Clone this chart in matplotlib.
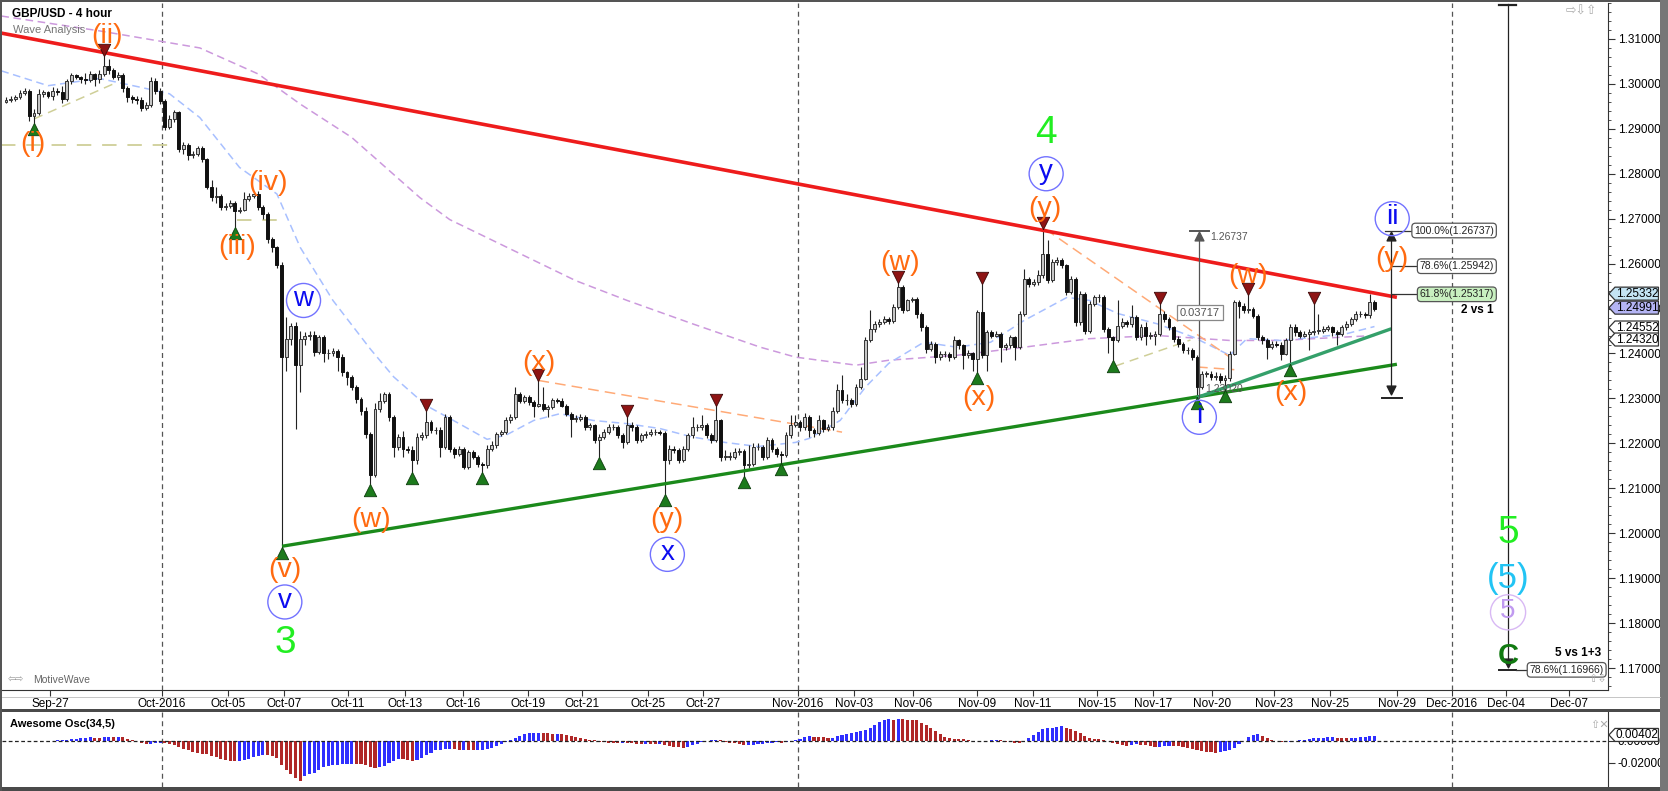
import numpy as np
import matplotlib
matplotlib.use('Agg')
import matplotlib.pyplot as plt
from matplotlib.patches import Polygon, Rectangle
from matplotlib.lines import Line2D

plt.rcParams['font.family'] = ['Liberation Sans', 'DejaVu Sans']

# ---- GBP/USD 4h candles, prices in pips after "1." (2965 -> 1.2965) ----
open0 = 2960
close_pips = [
    2965, 2967, 2970, 2980, 2984, 2928, 2935, 2977, 2981, 2973,
    2985, 2982, 2966, 3006, 3019, 3015, 3010, 3008, 3021, 3010,
    3022, 3039, 3030, 3016, 3020, 2990, 2970, 2966, 2965, 2947,
    2953, 3006, 2985, 2962, 2905, 2922, 2937, 2854, 2864, 2841,
    2845, 2858, 2832, 2771, 2748, 2750, 2725, 2728, 2735, 2718,
    2720, 2744, 2750, 2755, 2727, 2711, 2654, 2636, 2598, 2392,
    2432, 2461, 2374, 2432, 2440, 2442, 2403, 2436, 2400, 2400,
    2405, 2393, 2358, 2348, 2325, 2299, 2273, 2221, 2129, 2276,
    2295, 2310, 2259, 2192, 2214, 2188, 2185, 2163, 2214, 2218,
    2247, 2229, 2229, 2192, 2259, 2188, 2177, 2188, 2148, 2181,
    2170, 2155, 2151, 2188, 2196, 2221, 2225, 2251, 2259, 2310,
    2295, 2303, 2292, 2284, 2288, 2277, 2281, 2296, 2295, 2284,
    2266, 2255, 2255, 2259, 2236, 2240, 2207, 2214, 2225, 2236,
    2236, 2218, 2203, 2240, 2236, 2207, 2218, 2221, 2225, 2225,
    2223, 2162, 2188, 2185, 2162, 2188, 2218, 2236, 2236, 2240,
    2218, 2207, 2251, 2170, 2170, 2170, 2181, 2184, 2151, 2155,
    2192, 2192, 2170, 2207, 2188, 2177, 2175, 2218, 2240, 2248,
    2236, 2259, 2229, 2222, 2251, 2233, 2236, 2273, 2318, 2296,
    2296, 2288, 2325, 2344, 2429, 2455, 2466, 2470, 2477, 2473,
    2503, 2547, 2496, 2518, 2522, 2488, 2459, 2411, 2422, 2392,
    2399, 2399, 2392, 2429, 2418, 2396, 2400, 2388, 2492, 2396,
    2447, 2440, 2444, 2414, 2418, 2437, 2414, 2488, 2566, 2555,
    2559, 2574, 2622, 2563, 2603, 2607, 2596, 2537, 2566, 2470,
    2533, 2451, 2510, 2525, 2525, 2455, 2436, 2430, 2462, 2470,
    2466, 2481, 2436, 2459, 2440, 2440, 2444, 2488, 2477, 2459,
    2433, 2422, 2407, 2407, 2392, 2326, 2355, 2355, 2348, 2351,
    2340, 2345, 2399, 2514, 2506, 2496, 2499, 2484, 2437, 2429,
    2414, 2422, 2420, 2399, 2429, 2458, 2448, 2440, 2444, 2448,
    2451, 2451, 2455, 2459, 2448, 2444, 2459, 2466, 2477, 2488,
    2488, 2485, 2514, 2499,
]
high_pips = [
    2970, 2972, 2975, 2986, 2990, 2988, 2945, 2988, 2986, 2985,
    2992, 2990, 2995, 3010, 3025, 3022, 3018, 3025, 3028, 3025,
    3030, 3062, 3055, 3035, 3026, 3025, 2995, 2975, 2972, 2970,
    2960, 3016, 3012, 2990, 2966, 2930, 2942, 2940, 2870, 2868,
    2850, 2862, 2862, 2836, 2785, 2770, 2755, 2735, 2742, 2740,
    2726, 2760, 2758, 2762, 2762, 2730, 2715, 2660, 2640, 2604,
    2482, 2468, 2470, 2450, 2448, 2450, 2450, 2442, 2442, 2410,
    2412, 2410, 2398, 2362, 2352, 2330, 2303, 2280, 2226, 2290,
    2313, 2314, 2315, 2262, 2220, 2228, 2195, 2195, 2222, 2226,
    2273, 2252, 2236, 2236, 2266, 2262, 2192, 2195, 2192, 2186,
    2186, 2175, 2158, 2196, 2205, 2226, 2230, 2258, 2266, 2325,
    2314, 2308, 2308, 2296, 2340, 2325, 2286, 2302, 2302, 2300,
    2288, 2270, 2262, 2266, 2262, 2246, 2244, 2220, 2232, 2242,
    2242, 2240, 2222, 2259, 2248, 2240, 2224, 2228, 2232, 2232,
    2230, 2228, 2196, 2194, 2190, 2194, 2224, 2258, 2244, 2262,
    2246, 2222, 2284, 2255, 2186, 2180, 2190, 2190, 2188, 2196,
    2200, 2200, 2196, 2214, 2212, 2192, 2182, 2225, 2262, 2262,
    2252, 2268, 2262, 2234, 2262, 2255, 2242, 2280, 2333, 2352,
    2310, 2302, 2332, 2370, 2436, 2496, 2472, 2476, 2484, 2482,
    2510, 2558, 2552, 2522, 2526, 2526, 2492, 2464, 2428, 2426,
    2405, 2406, 2404, 2440, 2432, 2422, 2408, 2404, 2496, 2555,
    2452, 2452, 2450, 2448, 2424, 2442, 2440, 2494, 2588, 2570,
    2566, 2585, 2677, 2652, 2610, 2615, 2612, 2600, 2572, 2570,
    2540, 2536, 2516, 2530, 2532, 2530, 2460, 2440, 2518, 2478,
    2475, 2508, 2486, 2466, 2470, 2448, 2450, 2511, 2494, 2482,
    2462, 2438, 2426, 2414, 2412, 2396, 2362, 2362, 2360, 2358,
    2356, 2352, 2406, 2518, 2520, 2512, 2530, 2504, 2488, 2442,
    2434, 2428, 2428, 2426, 2434, 2466, 2466, 2452, 2450, 2454,
    2511, 2488, 2462, 2464, 2462, 2452, 2464, 2472, 2482, 2494,
    2494, 2492, 2533, 2518,
]
low_pips = [
    2958, 2960, 2962, 2966, 2976, 2918, 2912, 2930, 2970, 2968,
    2965, 2975, 2958, 2962, 3000, 3010, 3002, 3000, 3004, 2995,
    3002, 3018, 3022, 3010, 3008, 2982, 2960, 2958, 2955, 2940,
    2942, 2948, 2978, 2955, 2898, 2900, 2915, 2848, 2845, 2830,
    2836, 2840, 2826, 2765, 2740, 2735, 2720, 2720, 2724, 2682,
    2712, 2716, 2740, 2746, 2720, 2700, 2645, 2625, 2590, 1970,
    2360, 2420, 2233, 2314, 2420, 2430, 2395, 2398, 2380, 2388,
    2395, 2360, 2350, 2330, 2318, 2290, 2262, 2212, 2110, 2125,
    2270, 2290, 2250, 2170, 2185, 2170, 2178, 2136, 2155, 2208,
    2212, 2222, 2220, 2170, 2188, 2180, 2168, 2172, 2142, 2144,
    2165, 2148, 2136, 2146, 2182, 2190, 2216, 2220, 2246, 2255,
    2290, 2290, 2286, 2258, 2280, 2272, 2258, 2276, 2290, 2280,
    2260, 2214, 2248, 2250, 2230, 2230, 2200, 2170, 2210, 2220,
    2230, 2212, 2190, 2198, 2228, 2200, 2202, 2212, 2216, 2218,
    2218, 2088, 2155, 2178, 2156, 2158, 2182, 2212, 2228, 2230,
    2212, 2200, 2202, 2160, 2162, 2162, 2165, 2175, 2126, 2145,
    2150, 2185, 2162, 2165, 2180, 2170, 2155, 2170, 2212, 2236,
    2228, 2230, 2215, 2214, 2218, 2225, 2228, 2230, 2268, 2290,
    2286, 2280, 2284, 2320, 2340, 2425, 2448, 2460, 2466, 2466,
    2468, 2498, 2490, 2494, 2514, 2480, 2450, 2400, 2405, 2378,
    2386, 2392, 2384, 2388, 2410, 2366, 2390, 2362, 2359, 2390,
    2360, 2434, 2436, 2382, 2408, 2412, 2385, 2410, 2484, 2548,
    2550, 2552, 2568, 2556, 2558, 2598, 2590, 2530, 2532, 2462,
    2464, 2444, 2446, 2505, 2515, 2448, 2400, 2385, 2425, 2456,
    2458, 2460, 2430, 2430, 2420, 2432, 2420, 2438, 2470, 2452,
    2426, 2414, 2400, 2398, 2385, 2302, 2320, 2348, 2340, 2342,
    2334, 2318, 2338, 2396, 2480, 2490, 2490, 2478, 2430, 2422,
    2388, 2410, 2414, 2385, 2396, 2377, 2440, 2434, 2436, 2407,
    2442, 2444, 2446, 2450, 2440, 2418, 2440, 2452, 2462, 2472,
    2482, 2480, 2480, 2494,
]

# moving averages (bar index, price)
blue_ma_x = [-1, 9, 20, 29, 35, 41.5, 50, 58, 63, 70, 78, 83, 90, 97, 103, 107, 113,
             118.6, 125.7, 132.8, 140, 147, 154, 161, 169, 172, 178.6, 184, 189, 196.5,
             203.6, 210.8, 217.9, 227.2, 232, 238, 246.5, 254.3, 262, 265.7, 272.8, 280,
             287, 293]
blue_ma_y = [1.3029, 1.2996, 1.3012, 1.2992, 1.2978, 1.2925, 1.2814, 1.2755, 1.2636,
             1.2518, 1.2410, 1.2348, 1.2284, 1.2244, 1.2209, 1.2218, 1.2251, 1.2266,
             1.2251, 1.2244, 1.2233, 1.2214, 1.2202, 1.2193, 1.2202, 1.2211, 1.2251,
             1.2325, 1.2378, 1.2425, 1.2414, 1.2425, 1.2473, 1.2525, 1.2518, 1.2489,
             1.2466, 1.2436, 1.2396, 1.2433, 1.2429, 1.2436, 1.2444, 1.2460]
purple_ma_x = [-1, 20, 41.5, 54, 63, 74, 88.6, 95, 122, 133, 147, 161.5, 169, 182, 189,
               203.6, 218, 232, 246.5, 262, 272.8, 280, 293]
purple_ma_y = [1.3151, 1.3118, 1.3080, 1.3022, 1.2955, 1.2881, 1.2747, 1.2698, 1.2562,
               1.2518, 1.2466, 1.2414, 1.2392, 1.2374, 1.2385, 1.2396, 1.2414, 1.2433,
               1.2440, 1.2429, 1.2429, 1.2433, 1.2440]

# swing markers (bar index)
swing_lows = [6, 49, 59, 78, 87, 102, 127, 141, 158, 166, 208, 237, 255, 261, 275]
swing_highs = [21, 90, 114, 133, 152, 191, 209, 222, 247, 266, 280]

# time axis
tick_bars = [9.4, 33.4, 47.5, 59.5, 73.2, 85.4, 97.9, 111.8, 123.3, 137.5, 149.3,
             169.6, 181.6, 194.2, 207.9, 219.9, 233.6, 245.6, 258.2, 271.5, 283.5,
             297.9, 309.6, 321.2, 334.7]
tick_text = ['Sep-27', 'Oct-2016', 'Oct-05', 'Oct-07', 'Oct-11', 'Oct-13', 'Oct-16',
             'Oct-19', 'Oct-21', 'Oct-25', 'Oct-27', 'Nov-2016', 'Nov-03', 'Nov-06',
             'Nov-09', 'Nov-11', 'Nov-15', 'Nov-17', 'Nov-20', 'Nov-23', 'Nov-25',
             'Nov-29', 'Dec-2016', 'Dec-04', 'Dec-07']
month_bars = [33.4, 169.6, 309.6]

# trend lines (bar, price)
red_line = ([-1.0, 297.8], [1.3113, 1.2525])
green_line = ([59.1, 297.8], [1.1971, 1.2376])
teal_line = ([255.0, 296.6], [1.2302, 1.2455])

# wave labels: (text, bar, price)
orange_labels = [('(i)', 5.8, 1.2867), ('(ii)', 21.6, 1.3107), ('(iii)', 49.4, 1.2636),
                 ('(iv)', 56.2, 1.2780), ('(v)', 59.7, 1.1918), ('(w)', 78.2, 1.2030),
                 ('(x)', 114.0, 1.2378), ('(y)', 141.5, 1.2030), ('(w)', 191.4, 1.2602),
                 ('(x)', 208.2, 1.2302), ('(y)', 222.5, 1.2722), ('(w)', 266.0, 1.2573),
                 ('(x)', 275.0, 1.2311), ('(y)', 296.8, 1.2611)]
circled_labels = [('v', 59.7, 1.1847), ('w', 63.7, 1.2518), ('x', 141.6, 1.1953),
                  ('y', 222.7, 1.2800), ('i', 255.5, 1.2258), ('ii', 296.8, 1.2700)]
green_labels = [('3', 59.9, 1.1755), ('4', 222.7, 1.2891), ('5', 321.6, 1.2000)]

fib_levels = [1.26737, 1.25942, 1.25317]
fib_text = ['100.0%(1.26737)', '78.6%(1.25942)', '61.8%(1.25317)']

W, H = 1668, 791
fig = plt.figure(figsize=(W / 100, H / 100), dpi=100)
fig.patch.set_facecolor('white')


def fx(px):
    return px / W


def fy(py):
    return 1 - py / H


ax = fig.add_axes([fx(2), fy(690), fx(1608) - fx(2), fy(3) - fy(690)])
osc = fig.add_axes([fx(2), fy(787), fx(1608) - fx(2), fy(712) - fy(787)])
XLIM = (-0.86, 343.0)
for a in (ax, osc):
    a.set_xlim(*XLIM)
    a.set_facecolor('white')
ax.set_ylim(1.16511, 1.31778)
osc.set_ylim(-0.04182, 0.02636)

c = 1 + np.array(close_pips) / 10000
h = 1 + np.array(high_pips) / 10000
l = 1 + np.array(low_pips) / 10000
o = np.r_[1 + open0 / 10000, c[:-1]]
x = np.arange(len(c))
up = c >= o

# month separators
for mb in month_bars:
    for a in (ax, osc):
        a.axvline(mb, color='#555555', lw=0.9, ls=(0, (4, 3)), zorder=1)

# moving averages
ax.plot(purple_ma_x, purple_ma_y, color='#cc99dd', lw=1.1, ls=(0, (5, 3)), zorder=2)
ax.plot(blue_ma_x, blue_ma_y, color='#a8c0ff', lw=1.1, ls=(0, (5, 3)), zorder=2)

# candles
ax.vlines(x, l, h, color='#222222', lw=0.8, zorder=3)
body_lo = np.minimum(o, c)
body_h = np.maximum(np.abs(c - o), 0.00008)
ax.bar(x[up], body_h[up], bottom=body_lo[up], width=0.62, color='#c6c6c6',
       edgecolor='#333333', lw=0.7, zorder=4)
ax.bar(x[~up], body_h[~up], bottom=body_lo[~up], width=0.62, color='#111111',
       edgecolor='#111111', lw=0.7, zorder=4)

# helper dashed swing lines
khaki = '#cfcf98'
ax.plot([6, 23], [1.2922, 1.3000], color=khaki, lw=1.1, ls=(0, (6, 4)), zorder=2)
ax.plot([-1, 37.3], [1.2864, 1.2864], color=khaki, lw=1.3, ls=(0, (8, 6)), zorder=2)
ax.plot([49.4, 58], [1.2698, 1.2698], color=khaki, lw=1.3, ls=(0, (8, 6)), zorder=2)
ax.plot([237.5, 253.6], [1.2372, 1.2430], color=khaki, lw=1.1, ls=(0, (6, 4)), zorder=2)
peach = '#ffaa77'
ax.plot([114, 179], [1.2340, 1.2225], color=peach, lw=1.1, ls=(0, (7, 4)), zorder=2)
ax.plot([222.5, 262], [1.2677, 1.2392], color=peach, lw=1.1, ls=(0, (7, 4)), zorder=2)
ax.plot([255, 263], [1.2370, 1.2364], color=peach, lw=1.1, ls=(0, (7, 4)), zorder=2)

# trend lines
ax.plot(*red_line, color='#ee1c1c', lw=2.6, zorder=5, solid_capstyle='butt')
ax.plot(*green_line, color='#1b8a1b', lw=2.4, zorder=5, solid_capstyle='butt')
ax.plot(*teal_line, color='#34a06a', lw=2.4, zorder=5, solid_capstyle='butt')

# swing triangles
ax.scatter(swing_lows, l[swing_lows] - 0.0013, marker='^', s=80, color='#1c7a1c',
           edgecolors='#0d3d0d', linewidths=0.6, zorder=6)
ax.scatter(swing_highs, h[swing_highs] + 0.0013, marker='v', s=80, color='#8e1414',
           edgecolors='#3d0808', linewidths=0.6, zorder=6)

# wave labels
for t, bx, py in orange_labels:
    ax.text(bx, py, t, color='#ff6a10', fontsize=20.5, ha='center', va='center', zorder=7)
for t, bx, py in circled_labels:
    ax.scatter([bx], [py], s=600, facecolors='none', edgecolors='#7272ff', linewidths=1.0,
               zorder=7)
    ax.text(bx, py + 0.0003, t, color='#0c0cf0', fontsize=20, ha='center', va='center',
            zorder=8)
for t, bx, py in green_labels:
    ax.text(bx, py, t, color='#22ee22', fontsize=28, ha='center', va='center', zorder=7)
ax.text(321.6, 1.1900, '(5)', color='#22c4f4', fontsize=25, ha='center', va='center', zorder=7)
ax.scatter([321.6], [1.1824], s=640, facecolors='none', edgecolors='#d8b8f4', linewidths=1.0,
           zorder=7)
ax.text(321.6, 1.1826, '5', color='#c09af0', fontsize=20, ha='center', va='center', zorder=8)
ax.text(321.6, 1.1727, 'C', color='#117a11', fontsize=21, weight='bold', ha='center',
        va='center', zorder=7)

# measurement of wave (i)
ax.plot([255.5, 255.5], [1.2302, 1.2660], color='#555555', lw=0.9, zorder=6)
ax.scatter([255.5], [1.2662], marker='^', s=40, color='#555555', zorder=6)
ax.plot([253.4, 257.6], [1.26737, 1.26737], color='#555555', lw=1.4, zorder=6)
ax.text(257.8, 1.2660, '1.26737', color='#555555', fontsize=7.5, ha='left', va='center')
ax.text(255.6, 1.2491, '0.03717', color='#555555', fontsize=8, ha='center', va='center',
        zorder=9, bbox=dict(boxstyle='square,pad=0.25', fc='white', ec='#888888', lw=0.9))
ax.text(256.8, 1.2322, '1.23020', color='#555555', fontsize=7.5, ha='left', va='center',
        zorder=9)

# fib retracement of wave ii
ax.plot([296.6, 296.6], [1.2318, 1.2660], color='#222222', lw=0.9, zorder=6)
ax.scatter([296.6], [1.2661], marker='^', s=40, color='#222222', zorder=6)
ax.scatter([296.6], [1.2319], marker='v', s=40, color='#222222', zorder=6)
ax.plot([294.6, 298.8], [1.2302, 1.2302], color='#222222', lw=1.4, zorder=6)
fib_left = [301.9, 303.2, 303.2]
for lv, tx, xl in zip(fib_levels, fib_text, fib_left):
    ax.plot([295.3 if lv == fib_levels[0] else 296.6, xl], [lv, lv], color='#333333',
            lw=0.9, zorder=6)
    ax.text(318.6, lv, tx, fontsize=7.5, ha='right', va='center', color='#222222', zorder=9,
            bbox=dict(boxstyle='round,pad=0.22,rounding_size=0.35',
                      fc='#c8f0c0' if lv == fib_levels[2] else 'white', ec='#555555', lw=0.9))
ax.text(318.6, 1.2496, '2 vs 1', fontsize=8.5, weight='bold', ha='right', va='center')

# projection of wave 5
ax.plot([321.5, 321.5], [1.1712, 1.3178], color='#222222', lw=0.9, zorder=6)
ax.plot([319.7, 323.3], [1.31745, 1.31745], color='#222222', lw=1.6, zorder=6)
ax.scatter([321.5], [1.1712], marker='v', s=40, color='#222222', zorder=6)
ax.plot([319.6, 323.4], [1.16966, 1.16966], color='#222222', lw=1.4, zorder=6)
ax.plot([323.4, 326.0], [1.16966, 1.16966], color='#333333', lw=0.9, zorder=6)
ax.text(326.2, 1.1696, '78.6%(1.16966)', fontsize=7.5, ha='left', va='center',
        color='#222222', zorder=9,
        bbox=dict(boxstyle='round,pad=0.22,rounding_size=0.35', fc='white', ec='#555555', lw=0.9))
ax.text(341.6, 1.1733, '5 vs 1+3', fontsize=8.5, weight='bold', ha='right', va='center')

# axes styling
for a in (ax, osc):
    for s in ('top', 'left'):
        a.spines[s].set_visible(False)
    a.spines['right'].set_color('#333333')
    a.yaxis.tick_right()
osc.spines['bottom'].set_visible(False)
ax.spines['bottom'].set_color('#333333')

yt = np.round(np.arange(1.17, 1.3101, 0.01), 2)
ax.set_yticks(yt)
ax.set_yticklabels(['%.5f' % v for v in yt])
ax.set_yticks(np.arange(1.166, 1.318, 0.002), minor=True)
ax.tick_params(axis='y', which='major', length=5, direction='out', labelsize=8.5, pad=2,
               color='#333333')
ax.tick_params(axis='y', which='minor', length=2.5, direction='out', color='#333333')
ax.set_xticks(tick_bars)
ax.set_xticklabels(tick_text)
ax.tick_params(axis='x', length=4, direction='out', labelsize=8.5, pad=2, color='#333333')

osc.set_xticks([])
osc.set_yticks([-0.02, 0.0])
osc.set_yticklabels(['-0.02000', '0.00000'])
osc.tick_params(axis='y', length=5, labelsize=8.5, pad=2, color='#333333')

# awesome oscillator computed from candles
med = (h + l) / 2


def sma(a, n):
    return np.array([a[max(0, i - n + 1):i + 1].mean() for i in range(len(a))])


ao = sma(med, 5) - sma(med, 34)
rising = np.r_[True, ao[1:] >= ao[:-1]]
osc.bar(x, ao, width=0.66, color=np.where(rising, '#2f2fff', '#b02828'), zorder=3)
osc.axhline(0, color='#222222', lw=0.9, ls=(0, (3, 2)), zorder=4)


def tag(a, value, label, fc, halfh):
    pts = [(343.2, value), (344.5, value + halfh), (353.8, value + halfh),
           (353.8, value - halfh), (344.5, value - halfh)]
    a.add_patch(Polygon(pts, closed=True, fc=fc, ec='#333333', lw=0.9, clip_on=False,
                        zorder=20))
    a.text(349.2, value, label, ha='center', va='center', fontsize=8.5, clip_on=False,
           zorder=21)


ph = 6.5 / 4500
tag(ax, 1.25332, '1.25332', '#c4e4f4', ph)
tag(ax, 1.25020, '1.24991', '#b4b4f4', ph)
tag(ax, 1.24578, '1.24552', 'white', ph)
tag(ax, 1.24311, '1.24320', 'white', ph)
tag(osc, 0.0055, '0.00402', 'white', 6.5 / 1100)

# headers and chrome
fig.text(fx(12), fy(14), 'GBP/USD - 4 hour', fontsize=8.5, weight='bold', va='center')
fig.text(fx(13), fy(30), 'Wave Analysis', fontsize=8, color='#777777', va='center')
fig.text(fx(10), fy(724), 'Awesome Osc(34,5)', fontsize=8, weight='bold', va='center')
fig.text(fx(8), fy(680), '⇦⇨', fontsize=7, color='#999999', va='center')
fig.text(fx(33), fy(680), 'MotiveWave', fontsize=7.5, color='#666666', va='center')
fig.text(fx(1566), fy(12), '⇨⇩⇧', fontsize=9, color='#aaaaaa', va='center')
fig.text(fx(1588), fy(679), '⇧⇩', fontsize=8, color='#aaaaaa', va='center')
fig.text(fx(1590), fy(725), '⇧✕', fontsize=8, color='#aaaaaa', va='center')

for (x0, y0, w, hh, col) in [(0, 0, W, 2, '#555555'), (0, 709, W, 3, '#4a4a4a'),
                             (0, 787, W, 4, '#4a4a4a'), (1660, 0, 8, H, '#777777'),
                             (0, 0, 2, H, '#555555')]:
    fig.add_artist(Rectangle((fx(x0), fy(y0 + hh)), w / W, hh / H, transform=fig.transFigure,
                             fc=col, ec='none', zorder=30))
fig.add_artist(Line2D([fx(2), fx(1660)], [fy(697), fy(697)], transform=fig.transFigure,
                      color='#bbbbbb', lw=0.6, zorder=30))

fig.savefig('out.png', dpi=100, facecolor='white')
